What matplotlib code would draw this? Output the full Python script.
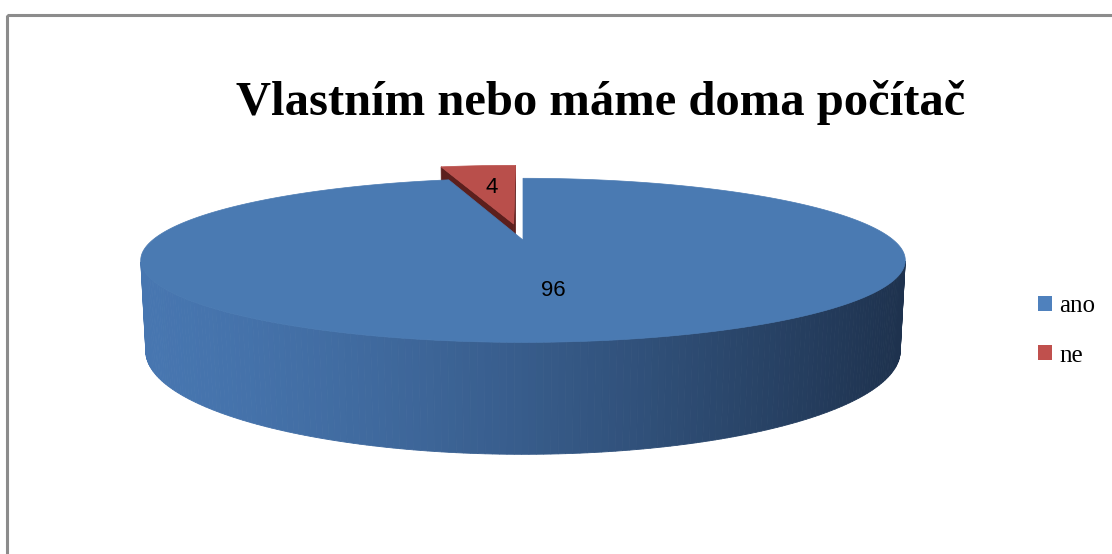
import numpy as np
import matplotlib.pyplot as plt
from matplotlib.patches import Polygon, Rectangle, Patch

title = "Vlastním nebo máme doma počítač"
labels = ["ano", "ne"]
values = [96, 4]
# explode offsets for each slice (x, y, lift) in pie radius units
explode = [(0.0, 0.0, 0.0), (-0.025, 0.0, 0.044)]

top_colors = ["#4a7ab2", "#b94f4b"]
side_colors = ["#4776b0", "#5c1f1d"]
wall_dark = "#1e324e"
legend_colors = ["#4f81bd", "#c0504d"]

W, H = 1112, 554

# 3d pie view settings (pixels / world units)
cx, cy = 523, 240
elev = np.radians(12.0)
dist0 = 3.95
focal = 1463
depth = 0.24
ce, se = np.cos(elev), np.sin(elev)
camera = np.array([0.0, -dist0 * ce, dist0 * se])


def project(x, y, z):
    d = dist0 + y * ce - z * se
    u = focal * x / d
    v = focal * (y * se + z * ce) / d
    return cx + u, cy - v


def mix(c1, c2, t):
    a = np.array(plt.matplotlib.colors.to_rgb(c1))
    b = np.array(plt.matplotlib.colors.to_rgb(c2))
    return tuple(a + (b - a) * t)


fig = plt.figure(figsize=(W / 100, H / 100), dpi=100)
ax = fig.add_axes([0, 0, 1, 1])
ax.set_xlim(0, W)
ax.set_ylim(H, 0)
ax.axis("off")

# outer frame (cut off on the right and bottom like the original)
ax.add_patch(Rectangle((7, 15), 1200, 700, fill=False, edgecolor="#8c8c8c", lw=2.2))

# slice angles: start at 12 o'clock, clockwise
total = float(sum(values))
slices = []
a = 90.0
for i, v in enumerate(values):
    a2 = a - 360.0 * v / total
    slices.append((a2, a))
    a = a2

# draw back slices first
order = sorted(range(len(values)), key=lambda i: -np.sin(np.radians((slices[i][0] + slices[i][1]) / 2)))
label_pos = {}
for i in order:
    t1, t2 = slices[i]
    mid = np.radians((t1 + t2) / 2)
    ox, oy, oz = explode[i]
    base = np.array([ox, oy, oz])
    ts = np.radians(np.linspace(t1, t2, 400))

    # radial faces
    for edge, sgn in ((t1, -1), (t2, 1)):
        e = np.radians(edge)
        normal = np.array([np.cos(e + sgn * np.pi / 2), np.sin(e + sgn * np.pi / 2), 0])
        if normal @ (camera - base) > 0:
            pts = [project(ox, oy, oz), project(ox + np.cos(e), oy + np.sin(e), oz),
                   project(ox + np.cos(e), oy + np.sin(e), oz - depth), project(ox, oy, oz - depth)]
            ax.add_patch(Polygon(pts, closed=True, facecolor=side_colors[i], edgecolor=side_colors[i], lw=0.5))

    # outer wall, shaded left to right
    for k in range(len(ts) - 1):
        tm = (ts[k] + ts[k + 1]) / 2
        p = np.array([ox + np.cos(tm), oy + np.sin(tm), oz])
        if np.array([np.cos(tm), np.sin(tm), 0]) @ (camera - p) <= 0:
            continue
        pts = [project(ox + np.cos(ts[k]), oy + np.sin(ts[k]), oz),
               project(ox + np.cos(ts[k + 1]), oy + np.sin(ts[k + 1]), oz),
               project(ox + np.cos(ts[k + 1]), oy + np.sin(ts[k + 1]), oz - depth),
               project(ox + np.cos(ts[k]), oy + np.sin(ts[k]), oz - depth)]
        sx = project(*p)[0]
        frac = np.clip((sx - (cx - 380)) / 760, 0, 1) ** 1.4
        col = mix(side_colors[i], wall_dark, frac) if i == 0 else side_colors[i]
        ax.add_patch(Polygon(pts, closed=True, facecolor=col, edgecolor=col, lw=0.6))

    # top face
    top = [project(ox, oy, oz)] + [project(ox + np.cos(t), oy + np.sin(t), oz) for t in ts]
    ax.add_patch(Polygon(top, closed=True, facecolor=top_colors[i], edgecolor=top_colors[i], lw=0.5))

    r = 0.57
    label_pos[i] = project(ox + r * np.cos(mid), oy + r * np.sin(mid), oz)

for i, v in enumerate(values):
    x, y = label_pos[i]
    ax.text(x, y, str(v), ha="center", va="center", fontsize=16,
            family="Liberation Sans", color="black")

ax.text(601, 115, title, ha="center", va="baseline", fontsize=35,
        fontweight="bold", family="Liberation Serif")

handles = [Patch(facecolor=c, edgecolor="none") for c in legend_colors]
ax.legend(handles, labels, loc="center left", bbox_to_anchor=(1038, 331),
          bbox_transform=ax.transData, frameon=False,
          prop={"family": "Liberation Serif", "size": 18},
          handlelength=0.55, handleheight=0.55, handletextpad=0.3,
          labelspacing=1.1, borderpad=0, borderaxespad=0)

fig.savefig("out.png", dpi=100, facecolor="white")
